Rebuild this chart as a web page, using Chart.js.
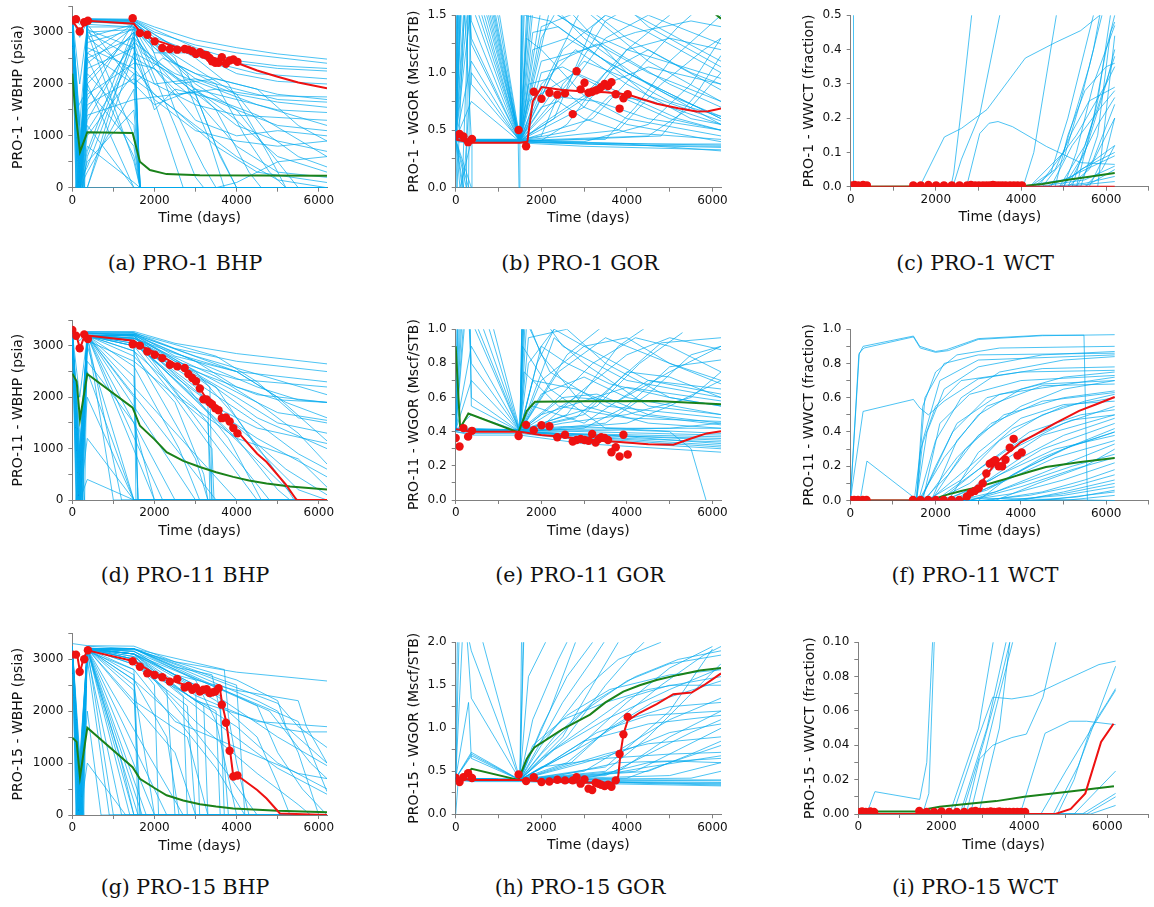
<!DOCTYPE html>
<html>
<head>
<meta charset="utf-8">
<title>PRO wells - ensemble vs history</title>
<script src="https://cdn.jsdelivr.net/npm/chart.js@4.4.1/dist/chart.umd.min.js"></script>
<style>
  html, body { margin: 0; padding: 0; background: #fff; }
  #page { position: relative; width: 1154px; height: 907px; overflow: hidden; }
  canvas { position: absolute; }
  .cap { position: absolute; width: 320px; text-align: center; font-family: 'DejaVu Serif', serif;
         font-size: 20.5px; line-height: 21px; color: #111; white-space: nowrap; }
</style>
</head>
<body>
<div id="page"></div>
<script>
'use strict';

// ---------- data ----------

// observation dates (days), same for every well
let obsDays = [0, 90, 180, 290, 380, 1470, 1645, 1825, 2005, 2190, 2375, 2555, 2735, 2825, 2920, 3010,
  3105, 3190, 3270, 3340, 3400, 3480, 3560, 3640, 3740, 3830, 3920, 4020];

let bhp1Obs = [3223, 3250, 3013, 3191, 3220, 3268, 2981, 2949, 2822, 2694, 2675, 2662, 2675, 2662, 2631, 2580,
  2611, 2567, 2554, 2500, 2439, 2408, 2408, 2516, 2389, 2452, 2471, 2427];
let gor1Obs = [0.453, 0.467, 0.445, 0.396, 0.424, 0.502, 0.361, 0.835, 0.774, 0.826, 0.809, 0.820, 0.640, 1.012,
  0.855, 0.912, 0.826, 0.835, 0.846, 0.855, 0.875, 0.903, 0.883, 0.918, 0.812, 0.688, 0.777, 0.812];
let wct1Obs = [0.004, 0.005, 0.004, 0.005, 0.004, 0.004, 0.004, 0.005, 0.004, 0.004, 0.004, 0.004, 0.004, 0.005,
  0.004, 0.004, 0.004, 0.004, 0.004, 0.005, 0.004, 0.004, 0.004, 0.004, 0.004, 0.004, 0.004, 0.004];
let bhp11Obs = [3308, 3198, 2954, 3224, 3134, 3031, 3006, 2890, 2826, 2762, 2633, 2601, 2569, 2453, 2376, 2312,
  2171, 1959, 1959, 1900, 1863, 1785, 1747, 1593, 1606, 1529, 1400, 1297];
let gor11Obs = [0.363, 0.313, 0.421, 0.371, 0.405, 0.375, 0.440, 0.409, 0.438, 0.432, 0.367, 0.382, 0.342, 0.351,
  0.357, 0.351, 0.347, 0.386, 0.336, 0.357, 0.367, 0.363, 0.351, 0.280, 0.309, 0.255, 0.382, 0.266];
let wct11Obs = [0.003, 0.003, 0.003, 0.003, 0.003, 0.003, 0.003, 0.003, 0.003, 0.003, 0.003, 0.003, 0.023, 0.046,
  0.056, 0.071, 0.100, 0.158, 0.215, 0.225, 0.235, 0.200, 0.200, 0.238, 0.308, 0.360, 0.262, 0.280];
let bhp15Obs = [3088, 3088, 2758, 2999, 3171, 2961, 2853, 2727, 2695, 2651, 2568, 2619, 2454, 2486, 2410, 2454,
  2378, 2410, 2423, 2346, 2360, 2378, 2441, 2124, 1775, 1237, 742, 761];
let gor15Obs = [0.424, 0.375, 0.432, 0.478, 0.421, 0.463, 0.386, 0.432, 0.375, 0.382, 0.402, 0.394, 0.394, 0.432,
  0.356, 0.405, 0.298, 0.283, 0.367, 0.355, 0.344, 0.329, 0.344, 0.321, 0.394, 0.700, 0.929, 1.132];
let wct15Obs = [0.0012, 0.0015, 0.0012, 0.0015, 0.0012, 0.0018, 0.0012, 0.0012, 0.0015, 0.0012, 0.0012, 0.0012,
  0.0015, 0.0018, 0.0012, 0.0012, 0.0012, 0.0015, 0.0012, 0.0012, 0.0015, 0.0012, 0.0012, 0.0012, 0.0012,
  0.0012, 0.0012, 0.0012];

// red = matched run, green = mean run  (flat lists: day, value, day, value ...)
let bhp1Red = [0,3220, 180,3020, 365,3220, 1500,3160, 1650,3000, 2000,2850, 2500,2720, 3000,2610, 3500,2490,
  4000,2410, 4500,2260, 5000,2140, 5500,2030, 6200,1915];
let bhp1Green = [0,2200, 65,1550, 187,690, 365,1070, 1468,1057, 1646,500, 1890,340, 2295,262, 3106,242, 6200,229];
let gor1Red = [0,0.42, 365,0.39, 1500,0.39, 1675,0.40, 1800,0.75, 2010,0.875, 2500,0.85, 2830,0.84, 3500,0.83,
  4020,0.81, 4700,0.73, 5200,0.69, 5630,0.662, 5900,0.665, 6200,0.688];
let gor1Green = [0,3.0, 365,3.0, 1500,3.0, 2000,2.6, 4000,2.0, 5500,1.7, 6100,1.5, 6200,1.47];
let wct1Red = [0,0, 2000,0, 4000,0, 6200,0];
let wct1Green = [0,0, 4000,0.001, 4500,0.008, 5140,0.021, 5600,0.029, 6200,0.040];
let bhp11Red = [0,3300, 100,3200, 187,2950, 300,3200, 365,3200, 1500,3100, 1650,3000, 2000,2880, 2500,2650,
  2800,2500, 3000,2330, 3200,2050, 3500,1780, 4000,1350, 4500,900, 4730,740, 5200,300, 5460,0, 6200,0];
let bhp11Green = [0,2460, 105,2312, 187,1573, 365,2453, 1468,1798, 1646,1445, 2000,1180, 2295,931, 2700,760,
  3106,642, 3500,540, 3917,450, 4300,380, 4728,321, 5300,265, 6200,206];
let gor11Red = [0,0.415, 365,0.40, 1500,0.40, 2000,0.38, 2500,0.37, 3000,0.355, 3500,0.345, 4000,0.336,
  4500,0.327, 5086,0.324, 5500,0.36, 5864,0.39, 6200,0.402];
let gor11Green = [0,0.90, 101,0.434, 150,0.44, 296,0.506, 1464,0.396, 1659,0.521, 1853,0.575, 3000,0.578,
  4696,0.579, 5500,0.57, 6200,0.56];
let wct11Red = [0,0, 1500,0, 2600,0, 2750,0.02, 3000,0.07, 3200,0.15, 3400,0.215, 3600,0.26, 3810,0.30,
  4000,0.34, 4355,0.388, 4800,0.45, 5365,0.523, 5800,0.565, 6200,0.604];
let wct11Green = [0,0, 1500,0, 2000,0.012, 2255,0.033, 2600,0.055, 3033,0.081, 3400,0.108, 3810,0.138,
  4200,0.168, 4588,0.196, 5400,0.225, 6200,0.248];
let bhp15Red = [0,3090, 120,3080, 187,2750, 270,3000, 365,3170, 1500,2960, 2000,2720, 2500,2570, 3000,2430,
  3500,2380, 3600,2400, 3650,2130, 3750,1780, 3840,1240, 3920,740, 4020,760, 4500,480, 4730,317, 5053,30,
  6200,0];
let bhp15Green = [0,1490, 105,1408, 187,729, 365,1680, 1468,919, 1646,698, 2000,520, 2295,380, 2700,280,
  3106,209, 3500,165, 3917,127, 5000,80, 6200,51];
let gor15Red = [0,0.42, 365,0.40, 1500,0.40, 2000,0.385, 3000,0.37, 3500,0.36, 3750,0.37, 3800,0.45, 3850,0.70,
  3920,0.93, 4020,1.09, 4300,1.18, 4696,1.28, 5086,1.396, 5514,1.415, 5800,1.50, 6200,1.637];
let gor15Green = [0,0.40, 100,0.42, 374,0.528, 1464,0.40, 1659,0.642, 1838,0.776, 2500,0.99, 3139,1.159,
  3500,1.30, 3917,1.426, 4300,1.50, 4696,1.56, 5200,1.62, 5700,1.67, 6200,1.70];
let wct15Red = [0,0, 2000,0, 4000,0, 4750,0, 5120,0.003, 5470,0.012, 5850,0.042, 6150,0.0525];
let wct15Green = [0,0.0015, 1480,0.0015, 1700,0.003, 1960,0.0042, 2600,0.0058, 3320,0.0075, 4000,0.010,
  5000,0.0128, 6160,0.0161];

// ensemble runs (blue), each a flat list day, value ...
let bhp1Runs = [
  [0,3300, 180,3200, 365,3260, 1500,3250, 2000,3100, 3000,2850, 4000,2700, 5000,2580, 6200,2480],
  [0,3280, 180,3150, 365,3240, 1500,3230, 2000,3000, 3000,2750, 4000,2600, 6200,2400],
  [0,3250, 180,2900, 365,3200, 1500,3180, 2000,2900, 3000,2600, 4000,2400, 5000,2300, 6200,2250],
  [0,3250, 180,0, 365,3150, 1500,3100, 1700,2600, 2500,2200, 3500,1900, 4500,1780, 6200,1750],
  [0,3200, 180,0, 365,2800, 1500,3050, 1650,0, 6200,0],
  [0,3250, 180,500, 365,2500, 1500,2900, 2000,2000, 3000,1600, 4000,1400, 6200,1300],
  [0,3300, 180,0, 365,2000, 1500,3000, 1650,0, 6200,0],
  [0,3200, 180,0, 365,1500, 1500,2800, 2000,2500, 3000,1800, 3500,800, 4000,0, 6200,0],
  [0,3250, 180,0, 365,3000, 1500,500, 1650,0, 6200,0],
  [0,3250, 180,0, 365,1000, 1500,2200, 2000,2000, 3000,2100, 4000,1900, 5000,1700, 6200,1650],
  [0,3200, 180,0, 365,0, 1500,2600, 2200,2300, 3200,1700, 4000,1200, 5000,900, 6200,700],
  [0,3250, 180,0, 365,500, 1500,1500, 1650,0, 6200,0],
  [0,3300, 180,2000, 365,3100, 1500,1000, 1650,0, 6200,0],
  [0,3250, 180,0, 365,3200, 1500,3200, 2000,2800, 2800,2200, 3600,600, 4000,0, 6200,0],
  [0,3250, 180,0, 365,2600, 1500,2000, 2200,2500, 3000,2200, 4000,2000, 5000,1800, 6200,1700],
  [0,3250, 180,0, 365,0, 1500,3000, 1700,2700, 2500,1200, 3000,200, 3200,0, 6200,0],
  [0,3200, 180,0, 365,3250, 1500,3220, 2000,2950, 3000,2500, 3800,2000, 4800,600, 5200,0, 6200,0],
  [0,3250, 180,0, 365,1800, 1500,2400, 2000,2300, 3000,1300, 4000,1000, 5000,1100, 6200,1000],
  [0,3200, 180,0, 365,800, 1500,100, 1650,0, 6200,0],
  [0,3250, 180,1200, 365,3050, 1500,2700, 2000,1500, 2500,1900, 3500,1700, 4500,1400, 6200,600],
  [0,3250, 180,0, 365,2200, 1500,1200, 1650,0, 6200,0],
  [0,3250, 180,0, 365,3200, 1500,3150, 2200,2700, 3000,2300, 4000,1800, 4800,1000, 5500,600, 6200,400],
  [0,3200, 180,0, 365,300, 1500,1900, 1650,0, 6200,0],
  [0,3250, 180,0, 365,1200, 1500,0, 6200,0],
  [0,3250, 180,0, 365,3100, 1500,3100, 2000,2400, 3000,1900, 4000,1700, 5000,1500, 6200,1450],
  [0,3250, 180,0, 365,2900, 1500,3150, 2500,2400, 3500,2000, 4200,1000, 4800,300, 5200,0, 6200,0],
  [0,3200, 180,0, 365,0, 1500,0, 3500,0, 4000,100, 5000,500, 6200,600],
  [0,3250, 180,0, 365,3000, 1500,2500, 2200,2200, 3000,1700, 4000,800, 5000,300, 6200,200],
  [0,3250, 180,0, 365,2400, 1500,3100, 2000,2600, 3000,2600, 4000,2200, 5000,2050, 6200,2000],
  [0,3250, 180,0, 365,1400, 1500,1700, 2000,1750, 3000,1850, 4000,1500, 5000,500, 5500,0, 6200,0],
  [0,3250, 180,0, 365,3220, 1500,3200, 1800,3000, 2500,1500, 3200,400, 3500,0, 6200,0],
  [0,3250, 180,0, 365,2700, 1500,2300, 2000,1800, 3000,1200, 4000,600, 5000,150, 6200,0],
  [0,3250, 90,0, 365,2300, 1500,2700, 1650,0, 6200,0],
  [0,3300, 130,0, 365,1700, 1500,3200, 1650,0, 6200,0],
  [0,3250, 250,0, 365,600, 1500,2900, 1650,0, 6200,0],
  [0,3250, 120,0, 365,2900, 1500,2200, 1650,0, 6200,0],
  [0,3300, 100,1500, 365,1900, 1500,800, 1650,0, 6200,0],
  [0,3250, 200,0, 365,3250, 1500,3240, 2000,3050, 3000,2700, 4000,2450, 5000,2350, 6200,2300],
  [0,3250, 150,0, 365,3230, 1500,3220, 2500,2700, 3500,2400, 4500,2200, 6200,2100],
  [0,3250, 300,0, 365,2100, 1500,3000, 2000,2300, 2600,1800, 3500,1900, 4500,1600, 6200,1200],
  [0,3200, 90,0, 365,1100, 1500,2500, 2000,1700, 3000,1100, 4000,900, 5000,800, 6200,900],
  [0,3250, 250,0, 365,3150, 1500,2000, 2000,1600, 3000,1900, 4000,1300, 5000,600, 6200,300],
  [0,3250, 180,0, 365,700, 1500,3100, 2500,2300, 3500,1500, 4300,300, 4600,0, 6200,0],
  [0,3250, 130,0, 365,2600, 1500,3150, 2200,2600, 3000,2000, 4000,1500, 5000,1200, 6200,1100],
  [0,3300, 220,0, 365,1600, 1500,2100, 2500,1500, 3500,800, 4500,300, 6200,100],
  [0,3250, 160,0, 365,3200, 1500,3180, 2500,2500, 3300,1000, 3700,0, 6200,0],
  [0,3250, 110,0, 365,400, 1500,2800, 2200,1200, 2700,0, 6200,0],
  [0,3250, 280,0, 365,2500, 1500,600, 1650,0, 6200,0],
  [0,3250, 190,0, 365,3000, 1500,3050, 2000,2700, 3000,2100, 4000,1800, 5000,1650, 6200,1550],
  [0,3250, 140,0, 365,1300, 1500,2900, 2500,2000, 3500,2100, 4500,1900, 5500,1200, 6200,900],
  [0,3250, 200,0, 365,2000, 1500,0, 6200,0]
];

let gor1Runs = [
  [0,0.42, 60,2.5, 365,2.0, 1500,0.42, 1560,2.5, 2500,1.6, 4000,1.0, 6200,0.6],
  [0,0.42, 120,2.5, 365,1.7, 1500,0.41, 1700,1.8, 3000,1.3, 4500,0.9, 6200,0.55],
  [0,0.42, 200,2.5, 365,1.3, 1500,0.40, 1800,1.2, 2600,1.3, 4000,1.0, 6200,0.6],
  [0,0.42, 30,0, 365,3, 1500,0.42, 1600,1.5, 2200,1.45, 3500,1.1, 5000,0.8, 6200,0.62],
  [0,0.41, 365,0.40, 1500,0.40, 2000,0.39, 4000,0.37, 6200,0.36],
  [0,0.42, 365,0.41, 1500,0.41, 2500,0.40, 4500,0.38, 6200,0.38],
  [0,0.40, 365,0.39, 1500,0.39, 3000,0.36, 6200,0.33],
  [0,0.43, 365,0.42, 1500,0.42, 2000,0.45, 2500,0.9, 3000,1.1, 4000,0.95, 5000,0.75, 6200,0.62],
  [0,0.42, 250,2.5, 365,0.9, 1500,0.41, 1700,0.6, 2000,1.0, 2500,1.05, 3500,0.85, 5000,0.6, 6200,0.5],
  [0,0.42, 150,0, 365,2.2, 1500,0.40, 2000,0.55, 3000,0.8, 4000,1.2, 5000,1.5, 5500,1.7],
  [0,0.42, 80,2.5, 365,0.42, 1500,0.42, 2300,0.6, 3200,1.4, 3800,1.6],
  [0,0.42, 365,1.6, 1500,0.40, 1650,1.3, 2000,1.2, 3000,0.8, 4000,0.6, 6200,0.45],
  [0,0.42, 365,0, 380,0.41, 1500,0.41, 2000,0.41, 2600,0.55, 3500,1.0, 4500,1.2, 5500,1.0, 6200,0.9],
  [0,0.42, 365,1.1, 1500,0.40, 1900,0.7, 2500,1.2, 3500,1.5, 4500,1.35, 6200,1.0],
  [0,0.42, 365,2.6, 1500,0.40, 1550,1.7, 2800,1.4, 4000,1.2, 6200,0.95],
  [0,0.42, 365,0.41, 1460,0.41, 1480,0, 1500,0.41, 3000,0.4, 4500,0.55, 5500,0.9, 6200,1.3],
  [0,0.42, 365,0.75, 1500,0.40, 1700,0.9, 2200,0.95, 3000,0.7, 4000,0.55, 6200,0.4],
  [0,0.42, 365,0.41, 1500,0.41, 3500,0.42, 4200,0.7, 5000,1.1, 6200,1.5],
  [0,0.42, 180,2.5, 365,2.8, 1500,0.41, 1600,2.5],
  [0,0.42, 365,0.41, 1500,0.41, 2800,0.5, 3600,0.8, 4600,0.75, 6200,0.55],
  [0,0.42, 365,1.9, 1500,0.40, 1750,1.5, 2300,1.6],
  [0,0.42, 365,0.42, 1500,0.42, 2000,0.7, 2400,0.75, 3000,0.6, 4000,0.48, 6200,0.42],
  [0,0.42, 365,0.41, 1500,0.41, 2200,1.0, 3000,1.6],
  [0,0.42, 365,0.41, 1500,0.41, 3000,0.7, 4000,1.2, 5000,1.3, 6200,1.2],
  [0,0.42, 250,0, 300,2.5, 365,1.45, 1500,0.40, 2200,1.55, 3200,1.3, 5000,0.9, 6200,0.7],
  [0,0.42, 365,0.41, 1500,0.41, 4500,0.45, 5500,0.7, 6200,1.0],
  [0,0.42, 365,2.3, 1500,0.41, 1800,2.0],
  [0,0.42, 365,0.41, 1500,0.41, 2500,0.8, 3500,1.3, 4500,1.5, 6200,1.25],
  [0,0.42, 100,0, 365,0.41, 1500,0.40, 3000,0.38, 6200,0.35],
  [0,0.42, 365,0.41, 1500,0.41, 2000,0.9, 2800,1.2, 4000,0.9, 5500,0.6, 6200,0.55],
  [0,0.42, 40,2.5, 365,2.4, 1500,0.41, 1650,2.5],
  [0,0.42, 90,2.5, 365,1.8, 1500,0.41, 1900,1.9, 2600,1.7, 4000,1.3, 6200,0.85],
  [0,0.42, 140,2.5, 365,1.25, 1500,0.40, 2000,1.4, 3000,1.55, 4500,1.1, 6200,0.75],
  [0,0.42, 220,2.5, 365,2.1, 1500,0.41, 2100,1.8, 3000,1.9, 4500,1.4, 6200,1.05],
  [0,0.42, 180,0, 365,1.0, 1500,0.40, 2400,1.1, 3300,1.25, 4500,1.0, 6200,0.75],
  [0,0.42, 365,0.41, 1500,0.41, 2600,0.9, 3500,1.45, 4200,1.6],
  [0,0.42, 365,0.41, 1500,0.41, 3200,0.6, 4200,1.0, 5200,1.4, 5800,1.6],
  [0,0.42, 365,0.41, 1500,0.41, 1800,1.35, 2400,1.4, 3500,1.1, 4500,0.8, 6200,0.58],
  [0,0.42, 365,0.41, 1500,0.41, 2000,1.3, 2600,1.7],
  [0,0.42, 365,0.41, 1500,0.41, 3800,0.5, 4800,0.9, 5800,1.2, 6200,1.3],
  [0,0.42, 365,0.41, 1500,0.41, 2500,0.65, 3500,0.9, 4500,1.05, 6200,0.9],
  [0,0.42, 365,0.41, 1500,0.41, 2200,0.8, 3300,0.75, 4500,0.6, 6200,0.5],
  [0,0.42, 300,0, 365,2.5, 1500,0.40, 1700,1.6, 2800,1.75, 4200,1.5, 6200,1.1],
  [0,0.42, 365,0.41, 1500,0.41, 1700,0.75, 2800,1.0, 4000,0.8, 5200,0.6, 6200,0.5],
  [0,0.42, 365,0.41, 1500,0.40, 4800,0.45, 5600,0.8, 6200,1.15],
  [0,0.42, 365,0.41, 1500,0.40, 2000,1.1, 3000,1.2, 4200,1.35, 5500,1.45, 6200,1.4],
  [0,0.41, 365,0.40, 1500,0.40, 6200,0.37],
  [0,0.41, 365,0.40, 1500,0.40, 4000,0.38, 6200,0.32]
];

let wct1Runs = [
  [0,0, 60,0, 66,0.8],
  [0,0, 1620,0, 2200,0.145, 2600,0.17, 3200,0.225, 4100,0.375, 4800,0.42, 5400,0.455, 5850,0.5, 6200,0.53],
  [0,0, 2350,0, 2420,0.04, 2620,0.25, 2840,0.5, 2900,0.56],
  [0,0, 2400,0, 2600,0.08, 3030,0.21, 3500,0.5, 3550,0.53],
  [0,0, 2700,0, 2750,0.015, 3030,0.155, 3250,0.185, 3460,0.19, 3800,0.175, 4600,0.117, 5400,0.07, 6200,0.065],
  [0,0, 4050,0, 4300,0.1, 4830,0.5, 4900,0.55],
  [0,0, 4300,0, 4700,0.04, 5100,0.2, 5500,0.4, 5700,0.5],
  [0,0, 4500,0, 5000,0.08, 5400,0.25, 5700,0.4, 5850,0.5],
  [0,0, 4800,0, 5100,0.15, 5500,0.28, 6000,0.35, 6200,0.36],
  [0,0, 5000,0, 5300,0.1, 5700,0.3, 6200,0.47],
  [0,0, 5100,0, 5500,0.1, 6000,0.3, 6200,0.4],
  [0,0, 4700,0, 5200,0.12, 5800,0.22, 6200,0.28],
  [0,0, 5300,0, 5700,0.08, 6200,0.24],
  [0,0, 5500,0, 5900,0.05, 6200,0.12],
  [0,0, 4200,0, 4800,0.05, 5200,0.16, 5600,0.25, 6200,0.29],
  [0,0, 4000,0.001, 5000,0.02, 6200,0.09],
  [0,0, 4500,0.002, 5500,0.02, 6200,0.06],
  [0,0, 5600,0, 6000,0.1, 6200,0.2],
  [0,0, 5200,0, 5700,0.2, 6000,0.4, 6200,0.5],
  [0,0, 4700,0, 5500,0.01, 6200,0.03],
  [0,0, 5000,0, 6200,0.015],
  [0,0, 5400,0, 5800,0.15, 6100,0.45, 6200,0.48],
  [0,0, 4900,0, 5400,0.05, 6200,0.1],
  [0,0, 4200,0, 5000,0.1, 5600,0.35, 5900,0.5],
  [0,0, 4900,0, 5500,0.12, 6200,0.38],
  [0,0, 5100,0, 5600,0.05, 6200,0.2],
  [0,0, 4600,0, 5200,0.03, 6200,0.12],
  [0,0, 5300,0, 5800,0.25, 6100,0.5],
  [0,0, 4400,0, 5300,0.15, 6000,0.3, 6200,0.35],
  [0,0, 5500,0, 6200,0.05],
  [0,0, 5000,0, 5400,0.08, 5800,0.18, 6200,0.26],
  [0,0, 5800,0, 6200,0.44]
];

let bhp11Runs = [
  [0,3300, 180,3200, 365,3280, 1500,3280, 2500,3050, 4000,2850, 6200,2650],
  [0,3300, 180,3100, 365,3270, 1500,3260, 2500,2950, 4000,2700, 6200,2500],
  [0,3280, 180,0, 365,3250, 1500,3250, 2500,2800, 4000,2500, 6200,2300],
  [0,3300, 180,0, 365,3250, 1500,3220, 2500,2700, 4000,2350, 6200,2200],
  [0,3300, 180,0, 365,3200, 1500,3200, 2300,2700, 3000,2500, 4500,2050, 6200,1900],
  [0,3250, 180,0, 365,3150, 1500,3150, 1600,0, 6200,0],
  [0,3250, 180,0, 365,3000, 1500,0, 6200,0],
  [0,3250, 180,0, 365,3200, 2500,0, 6200,0],
  [0,3300, 180,0, 365,3100, 1500,2700, 3300,1500, 3400,0, 6200,0],
  [0,3250, 180,2000, 365,3200, 1500,3050, 2500,2400, 3500,1800, 4500,1400, 6200,1100],
  [0,3250, 180,0, 365,2700, 1500,1500, 2000,0, 6200,0],
  [0,3250, 180,0, 365,3200, 1500,3000, 2500,2000, 3400,1000, 3450,0, 6200,0],
  [0,3300, 180,0, 365,3250, 1500,3180, 2800,2600, 4000,2100, 5000,1700, 6200,1550],
  [0,3250, 180,500, 365,3200, 1000,0, 6200,0],
  [0,3250, 180,0, 365,3250, 1500,3220, 3000,2500, 4000,1600, 5000,500, 5400,0, 6200,0],
  [0,3250, 180,0, 365,2000, 1500,0, 6200,0],
  [0,3250, 180,0, 365,3200, 1500,2800, 2500,1900, 3200,500, 3300,0, 6200,0],
  [0,3250, 180,0, 365,3200, 1500,3100, 3000,2300, 4500,1500, 5500,900, 6200,600],
  [0,3200, 180,0, 365,400, 1500,0, 6200,0],
  [0,3250, 180,0, 365,3200, 1500,2900, 2500,1500, 3000,800, 3300,0, 6200,0],
  [0,3250, 180,0, 365,3230, 1500,3150, 3500,2400, 4500,1900, 5500,1300, 6200,700],
  [0,3250, 180,0, 365,3250, 1500,3250, 3500,2800, 4500,2300, 5500,1600, 6200,1500],
  [0,3250, 180,0, 365,3200, 4000,0, 6200,0],
  [0,3250, 180,0, 365,3200, 1500,3100, 4000,1200, 5000,200, 5300,0, 6200,0],
  [0,3250, 180,0, 365,1200, 1500,0, 6200,0],
  [0,3250, 180,0, 365,3200, 1500,2000, 1600,0, 6200,0],
  [0,3250, 180,0, 365,3200, 1500,3220, 3000,2700, 4000,2200, 5000,1950, 6200,1900],
  [0,3250, 180,0, 365,3200, 3000,0, 6200,0],
  [0,3250, 180,0, 365,3200, 1500,3000, 2500,2600, 3500,2200, 4500,1000, 5500,200, 6200,0],
  [0,3250, 180,0, 365,3200, 1500,3100, 2600,2000, 4000,1200, 5500,800, 6200,250],
  [0,3250, 180,0, 365,3200, 1500,3150, 2500,2850, 4000,2500, 5000,2000, 6200,1150],
  [0,3250, 180,0, 365,3200, 1500,3050, 3000,2000, 4500,1200, 6200,450],
  [0,3250, 100,0, 365,3200, 1500,3150, 3000,2400, 3350,2200, 3400,0, 6200,0],
  [0,3250, 130,0, 365,3200, 1500,3100, 3000,2200, 3300,1900, 3350,0, 6200,0],
  [0,3250, 220,0, 365,3200, 2000,0, 6200,0],
  [0,3250, 160,0, 365,3200, 1200,0, 6200,0],
  [0,3250, 250,0, 365,3200, 3500,0, 6200,0],
  [0,3250, 180,0, 365,3200, 1500,3200, 4500,0, 6200,0],
  [0,3250, 200,0, 365,3200, 1500,3100, 5500,0, 6200,0],
  [0,3250, 150,0, 365,3200, 1500,3150, 2500,2700, 4000,2000, 5000,1500, 6200,1300],
  [0,3250, 110,0, 365,3200, 1500,3230, 3000,2800, 4500,2450, 6200,2050],
  [0,3250, 190,0, 365,3200, 1500,3200, 3000,2700, 4500,2200, 5500,1950, 6200,1900],
  [0,3250, 170,0, 365,3200, 1500,3120, 3200,2000, 4200,1300, 5200,600, 6200,100],
  [0,3250, 240,0, 365,3200, 1500,2600, 2600,1000, 3100,0, 6200,0],
  [0,3250, 140,0, 365,3200, 1500,3200, 2800,2200, 3800,1200, 4600,0, 6200,0],
  [0,3250, 260,0, 365,3200, 1500,3000, 1550,0, 6200,0],
  [0,3250, 90,0, 365,3200, 1500,2400, 1600,0, 6200,0],
  [0,3250, 210,0, 365,3200, 1500,3100, 3300,2300, 4500,1600, 6200,1000],
  [0,3250, 180,0, 365,2500, 1500,0, 6200,0],
  [0,3250, 120,0, 365,3200, 1500,3230, 4000,2500, 5200,1900, 6200,1600],
  [0,3250, 300,0, 365,3200, 2200,0, 6200,0],
  [0,3250, 160,0, 365,3200, 1500,2900, 3000,1800, 4000,800, 4800,0, 6200,0]
];

let gor11Runs = [
  [0,0.41, 365,0.40, 1500,0.40, 3000,0.37, 6200,0.32],
  [0,0.40, 365,0.39, 1500,0.39, 3000,0.35, 6200,0.30],
  [0,0.42, 365,0.41, 1500,0.41, 3000,0.40, 6200,0.38],
  [0,0.40, 365,0.38, 1500,0.38, 3000,0.33, 6200,0.28],
  [0,0.42, 365,0.42, 1500,0.41, 2500,0.43, 4000,0.42, 6200,0.42],
  [0,0.41, 100,1.5, 365,1.2, 1500,0.40, 1580,1.5],
  [0,0.41, 200,1.5, 365,0.8, 1500,0.40, 1650,1.2, 2500,0.9, 4000,0.7, 6200,0.6],
  [0,0.41, 300,1.3, 365,0.6, 1500,0.40, 1700,0.95, 2600,1.0, 3500,0.8, 5000,0.6, 6200,0.55],
  [0,0.41, 250,1.5, 365,1.05, 1500,0.40, 2000,0.7, 3000,0.9, 4000,0.95, 5000,0.8, 6200,0.7],
  [0,0.41, 365,0.5, 1500,0.40, 1600,1.1, 2000,0.85, 3000,0.55, 4500,0.45, 6200,0.42],
  [0,0.41, 365,0.41, 1500,0.41, 2200,0.55, 3200,0.8, 4200,0.95, 5000,0.9, 6200,0.75],
  [0,0.41, 365,0.41, 1500,0.41, 2800,0.48, 3800,0.7, 4800,0.92, 6200,0.95],
  [0,0.41, 365,0.41, 1500,0.41, 1900,0.8, 2400,1.05],
  [0,0.41, 365,0.41, 1500,0.40, 2500,0.6, 3300,0.62, 4500,0.5, 6200,0.45],
  [0,0.41, 150,1.5, 365,1.1, 1500,0.40, 1550,1.1, 2200,0.75, 3500,0.55, 6200,0.48],
  [0,0.41, 365,0.41, 1500,0.40, 3500,0.45, 4500,0.62, 5500,0.85, 6200,0.9],
  [0,0.41, 365,0.41, 1500,0.40, 2000,0.62, 3000,0.72, 4000,0.6, 6200,0.5],
  [0,0.41, 365,0.41, 1500,0.40, 2600,0.85, 3600,1.05],
  [0,0.41, 365,0.41, 1500,0.40, 4000,0.41, 5000,0.40, 5500,0.30, 5850,0],
  [0,0.41, 365,0.41, 1500,0.41, 3000,0.5, 4000,0.75, 5000,0.72, 6200,0.6],
  [0,0.41, 50,1.5, 365,1.5, 1500,0.41, 1600,1.5],
  [0,0.41, 365,0.41, 1500,0.40, 2300,0.95, 3000,0.8, 4500,0.55, 6200,0.5],
  [0,0.41, 365,0.41, 1500,0.41, 3300,0.55, 4300,0.8, 5300,0.98],
  [0,0.41, 365,0.41, 1500,0.40, 1800,0.55, 3000,0.45, 4500,0.7, 6200,0.65],
  [0,0.41, 365,0.41, 1500,0.40, 2500,0.45, 4000,0.5, 5500,0.6, 6200,0.75],
  [0,0.41, 365,0.41, 1500,0.40, 3500,0.38, 6200,0.35],
  [0,0.41, 365,0.41, 1500,0.40, 2000,0.38, 6200,0.31],
  [0,0.41, 365,0.41, 1500,0.40, 2500,0.38, 4000,0.36, 6200,0.34],
  [0,0.41, 365,0.7, 1500,0.40, 1700,1.2],
  [0,0.41, 365,0.41, 1500,0.40, 1560,0.9, 2200,0.65, 3500,0.42, 6200,0.39],
  [0,0.41, 80,1.5, 365,1.35, 1500,0.40, 1620,1.3],
  [0,0.41, 365,0.41, 1500,0.40, 1700,0.8, 2300,1.0, 3000,0.9, 4500,0.7, 6200,0.62],
  [0,0.41, 365,0.41, 1500,0.40, 2100,0.45, 3000,0.65, 4000,0.85, 5000,0.95, 6200,0.88],
  [0,0.41, 365,0.41, 1500,0.40, 2600,0.5, 3800,0.9, 4500,1.02],
  [0,0.41, 365,0.41, 1500,0.40, 1800,0.7, 2800,0.65, 4200,0.5, 6200,0.44],
  [0,0.41, 365,0.41, 1500,0.40, 3000,0.42, 4000,0.55, 5000,0.78, 6200,0.82],
  [0,0.41, 365,0.41, 1500,0.40, 2400,0.75, 3500,0.95, 4500,0.85, 6200,0.68],
  [0,0.41, 365,0.9, 1500,0.40, 1600,0.75, 2400,0.55, 4000,0.48, 6200,0.46],
  [0,0.41, 320,1.5, 365,0.55, 1500,0.40, 2000,0.5, 3000,0.58, 4000,0.66, 6200,0.58],
  [0,0.41, 365,0.41, 1500,0.40, 4000,0.45, 5000,0.55, 6200,0.7],
  [0,0.41, 365,0.41, 1500,0.40, 2000,0.9, 2600,0.8, 3600,0.68, 5000,0.6, 6200,0.55],
  [0,0.41, 365,0.41, 1500,0.40, 3000,0.38, 6200,0.36],
  [0,0.41, 365,0.41, 1500,0.40, 4000,0.37, 6200,0.33],
  [0,0.41, 365,0.41, 1500,0.40, 2500,0.39, 6200,0.37],
  [0,0.41, 365,0.41, 1500,0.41, 5000,0.42, 6200,0.45],
  [0,0.41, 365,0.41, 1500,0.40, 2800,0.6, 3800,0.58, 5000,0.75, 6200,0.9],
  [0,0.41, 365,0.41, 1500,0.40, 1580,1.2]
];

let wct11Runs = [
  [0,0, 200,0.85, 300,0.9, 1480,0.96, 1630,0.9, 2000,0.87, 2250,0.88, 3000,0.945, 4500,0.965, 5480,0.965, 5560,0, 6200,0],
  [0,0, 210,0.86, 320,0.89, 1480,0.955, 1640,0.89, 2000,0.865, 2300,0.875, 3000,0.94, 4500,0.962, 6200,0.968],
  [0,0, 300,0.52, 1480,0.59, 1630,0.54, 1830,0.50, 2200,0.58, 3000,0.71, 4500,0.77, 6200,0.78],
  [0,0, 230,0, 390,0.23, 1480,0.02, 6200,0],
  [0,0, 1550,0, 1700,0.55, 2000,0.75, 2500,0.85, 3500,0.89, 6200,0.9],
  [0,0, 1550,0, 1800,0.4, 2200,0.65, 3000,0.78, 4500,0.85, 6200,0.87],
  [0,0, 1600,0, 2000,0.35, 2600,0.6, 3500,0.75, 5000,0.82, 6200,0.84],
  [0,0, 1600,0, 2200,0.25, 3000,0.5, 4000,0.65, 5000,0.72, 6200,0.75],
  [0,0, 1700,0, 2300,0.15, 3000,0.38, 4000,0.55, 5000,0.65, 6200,0.7],
  [0,0, 1800,0, 2600,0.12, 3500,0.35, 4500,0.5, 5500,0.58, 6200,0.62],
  [0,0, 2000,0, 2800,0.1, 3800,0.3, 5000,0.45, 6200,0.55],
  [0,0, 2200,0, 3000,0.08, 4000,0.25, 5000,0.38, 6200,0.48],
  [0,0, 2300,0, 3200,0.06, 4200,0.2, 5200,0.32, 6200,0.4],
  [0,0, 2500,0, 3400,0.05, 4500,0.16, 5500,0.26, 6200,0.33],
  [0,0, 2700,0, 3800,0.04, 5000,0.12, 6200,0.22],
  [0,0, 3000,0, 4200,0.03, 5200,0.08, 6200,0.15],
  [0,0, 3500,0, 5000,0.03, 6200,0.08],
  [0,0, 1500,0, 1650,0.3, 2000,0.55, 2600,0.7, 4000,0.75, 6200,0.76],
  [0,0, 1650,0, 2400,0.4, 3200,0.6, 4500,0.68, 6200,0.7],
  [0,0, 1900,0, 2700,0.3, 3600,0.5, 5000,0.6, 6200,0.64],
  [0,0, 2100,0, 3100,0.2, 4200,0.4, 5400,0.5, 6200,0.53],
  [0,0, 2400,0, 3500,0.15, 4800,0.3, 6200,0.38],
  [0,0, 4000,0, 5000,0.05, 6200,0.12],
  [0,0, 1550,0, 1750,0.6, 2200,0.8, 3000,0.85, 6200,0.86],
  [0,0, 2600,0, 3600,0.12, 4500,0.25, 5500,0.35, 6200,0.42],
  [0,0, 4500,0, 5500,0.03, 6200,0.05],
  [0,0, 1700,0, 2100,0.45, 2800,0.62, 4000,0.7, 6200,0.73],
  [0,0, 2800,0, 4000,0.1, 5200,0.2, 6200,0.27],
  [0,0, 1550,0, 1700,0.35, 2100,0.7, 3000,0.82, 6200,0.85],
  [0,0, 1650,0, 2000,0.2, 2500,0.45, 3500,0.62, 6200,0.72],
  [0,0, 1750,0, 2500,0.25, 3300,0.45, 4500,0.58, 6200,0.63],
  [0,0, 1850,0, 2800,0.2, 3800,0.42, 5000,0.55, 6200,0.6],
  [0,0, 2000,0, 3000,0.18, 4000,0.35, 5200,0.47, 6200,0.5],
  [0,0, 2200,0, 3300,0.12, 4500,0.3, 6200,0.45],
  [0,0, 2500,0, 3500,0.1, 4800,0.25, 6200,0.35],
  [0,0, 2800,0, 4000,0.08, 5200,0.18, 6200,0.25],
  [0,0, 3200,0, 4500,0.05, 5500,0.12, 6200,0.18],
  [0,0, 3800,0, 5000,0.04, 6200,0.1],
  [0,0, 4200,0, 5300,0.02, 6200,0.06],
  [0,0, 1900,0, 2500,0.35, 3200,0.55, 4500,0.67, 6200,0.68],
  [0,0, 2300,0, 3000,0.28, 4000,0.48, 5000,0.56, 6200,0.58],
  [0,0, 2600,0, 3400,0.2, 4500,0.38, 6200,0.5],
  [0,0, 3000,0, 3800,0.15, 5000,0.3, 6200,0.4],
  [0,0, 3400,0, 4400,0.1, 5500,0.2, 6200,0.3],
  [0,0, 5000,0, 6200,0.03]
];

let bhp15Runs = [
  [0,3300, 365,3260, 1500,3250, 2500,2950, 4000,2750, 6200,2580],
  [0,3250, 180,0, 365,3250, 1500,3200, 2500,2850, 3400,2700, 3600,2000, 3800,0, 6200,0],
  [0,3250, 180,0, 365,3220, 1500,3150, 2500,2700, 4000,2400, 5500,2200, 5700,1700, 6200,1000],
  [0,3250, 180,0, 365,3200, 1500,3100, 3000,2300, 4500,1800, 6200,1700],
  [0,3250, 180,0, 365,3200, 1500,3050, 3000,2200, 5200,1650, 5600,1600, 6200,1600],
  [0,3250, 180,0, 365,3200, 1500,0, 6200,0],
  [0,3250, 180,0, 365,3100, 1200,0, 6200,0],
  [0,3250, 180,0, 365,3000, 900,0, 6200,0],
  [0,3250, 180,0, 365,3150, 1500,2800, 1650,0, 6200,0],
  [0,3250, 180,0, 365,3200, 1500,3000, 2300,2400, 2500,0, 6200,0],
  [0,3250, 180,0, 365,3200, 1500,2900, 2800,2100, 3000,0, 6200,0],
  [0,3250, 180,0, 365,3200, 1500,3100, 3000,2500, 3100,0, 6200,0],
  [0,3250, 180,0, 365,3200, 2000,0, 6200,0],
  [0,3250, 180,0, 365,3200, 1500,2500, 2000,0, 6200,0],
  [0,3250, 180,0, 365,3200, 1500,3100, 3500,2200, 4500,1500, 5000,600, 5300,0, 6200,0],
  [0,3250, 180,0, 365,3200, 1500,2800, 2500,1800, 4000,1300, 5500,800, 6200,700],
  [0,3250, 180,0, 365,3200, 1500,3100, 3000,2200, 4000,1700, 5000,1000, 6200,500],
  [0,3250, 180,0, 365,3200, 1500,3200, 3000,2600, 3500,1800, 4000,0, 6200,0],
  [0,3250, 180,0, 365,3200, 1500,3000, 3000,1800, 4500,800, 5500,200, 5800,0, 6200,0],
  [0,3250, 180,0, 365,3200, 1500,2700, 1600,0, 6200,0],
  [0,3250, 180,0, 365,2000, 700,0, 6200,0],
  [0,3250, 180,0, 365,3200, 1500,3000, 2000,2500, 2100,0, 6200,0],
  [0,3250, 180,0, 365,3200, 1400,0, 6200,0],
  [0,3250, 180,0, 365,3200, 1500,3200, 4500,2200, 5000,2000, 5500,1200, 6000,0, 6200,0],
  [0,3250, 180,0, 365,3200, 1500,3100, 4000,2300, 5500,1800, 6200,450],
  [0,3250, 180,0, 365,3200, 1800,0, 6200,0],
  [0,3250, 180,0, 365,3200, 1500,3200, 3700,2800, 3800,1900, 4000,1000, 4300,0, 6200,0],
  [0,3250, 180,0, 365,3200, 1500,2200, 2800,1500, 3300,0, 6200,0],
  [0,3250, 180,0, 365,3200, 2500,1200, 3000,0, 6200,0],
  [0,3250, 180,0, 365,3200, 1700,0, 6200,0],
  [0,3250, 180,0, 365,3200, 1500,3150, 2800,2700, 4500,2100, 5000,1200, 5600,500, 6200,0],
  [0,3250, 180,0, 365,3200, 1500,2600, 2300,1500, 2600,0, 6200,0],
  [0,3250, 100,0, 365,3200, 1000,0, 6200,0],
  [0,3250, 130,0, 365,3200, 1600,0, 6200,0],
  [0,3250, 220,0, 365,3200, 2300,0, 6200,0],
  [0,3250, 150,0, 365,3200, 1500,3100, 2700,2300, 2800,0, 6200,0],
  [0,3250, 240,0, 365,3200, 1500,3000, 3200,2100, 3300,0, 6200,0],
  [0,3250, 170,0, 365,3200, 1500,3150, 3000,2450, 3600,2300, 3700,0, 6200,0],
  [0,3250, 110,0, 365,3200, 1500,3200, 4000,2500, 4200,0, 6200,0],
  [0,3250, 260,0, 365,3200, 1500,3180, 4000,2600, 5000,2200, 5200,1700, 6200,1000],
  [0,3250, 190,0, 365,3200, 1500,3100, 3500,2300, 5000,1500, 6200,950],
  [0,3250, 120,0, 365,3200, 2700,0, 6200,0],
  [0,3250, 280,0, 365,3200, 1500,2600, 2600,1800, 3500,900, 4200,0, 6200,0],
  [0,3250, 200,0, 365,3200, 1200,1000, 1500,0, 6200,0],
  [0,3250, 160,0, 365,3200, 1500,3050, 2500,2400, 3800,1600, 5000,900, 6200,400],
  [0,3250, 140,0, 365,3200, 1500,3200, 5000,2150, 5500,1700, 6200,1300],
  [0,3250, 210,0, 365,3200, 1500,2900, 3500,2000, 3600,0, 6200,0],
  [0,3250, 180,0, 365,1000, 1300,0, 6200,0],
  [0,3250, 230,0, 365,3200, 1500,2400, 1650,0, 6200,0],
  [0,3250, 90,0, 365,3200, 1500,3200, 4800,2000, 5800,1000, 6200,700],
  [0,3250, 250,0, 365,3200, 1500,3100, 2500,2100, 3500,1100, 4500,0, 6200,0]
];

let gor15Runs = [
  [0,0.42, 365,0.40, 1500,0.40, 3000,0.38, 6200,0.35],
  [0,0.40, 365,0.38, 1500,0.38, 3000,0.36, 6200,0.33],
  [0,0.41, 365,0.41, 1500,0.41, 4000,0.40, 6200,0.40],
  [0,0, 60,0.40, 365,0.39, 1500,0.39, 6200,0.37],
  [0,0.42, 100,2.5, 365,1.9, 1500,0.40, 1600,2.5],
  [0,0.42, 200,2.5, 365,1.35, 1500,0.40, 1700,1.6, 2200,2.1],
  [0,0.42, 365,0.72, 1500,0.40, 1800,0.8, 2500,1.1, 3500,1.3, 4500,1.45, 6200,1.6],
  [0,0.42, 365,0.70, 1500,0.40, 2000,0.7, 3000,1.2, 4000,1.55, 5000,1.75, 6200,1.85],
  [0,0.42, 365,0.68, 1500,0.40, 2500,0.9, 3200,1.5, 3800,2.0],
  [0,0.42, 365,0.41, 1500,0.41, 2200,1.2, 2800,2.0],
  [0,0.42, 365,0.41, 1500,0.41, 2600,0.6, 3600,1.0, 4600,1.3, 6200,1.55],
  [0,0.42, 365,0.41, 1500,0.40, 3000,0.5, 4000,0.8, 5000,1.1, 6200,1.35],
  [0,0.42, 365,0.41, 1500,0.40, 3500,0.45, 4500,0.7, 5500,0.95, 6200,1.1],
  [0,0.42, 365,0.41, 1500,0.40, 4000,0.42, 5000,0.6, 6200,0.8],
  [0,0.42, 365,0.41, 1500,0.40, 2000,1.0, 2600,1.6, 3200,2.0],
  [0,0.42, 365,0.41, 1500,0.40, 2300,0.75, 3500,1.1, 5000,1.45, 6200,1.7],
  [0,0.42, 365,0.41, 1500,0.40, 2800,0.75, 4000,1.3, 5000,1.7, 6000,1.95],
  [0,0.42, 365,0.41, 1500,0.40, 5000,0.45, 6200,0.6],
  [0,0.42, 365,0.41, 1500,0.40, 2500,0.55, 3500,0.7, 4500,0.82, 6200,0.9],
  [0,0.42, 365,0.41, 1500,0.40, 1600,2.2],
  [0,0.42, 365,0.41, 1500,0.40, 3000,0.8, 4000,1.1, 5000,1.25, 6200,1.3],
  [0,0.42, 365,0.41, 1500,0.40, 3800,0.5, 5000,0.9, 6200,1.2],
  [0,0.42, 365,0.41, 1500,0.40, 2000,0.55, 3500,0.65, 5000,0.7, 6200,0.72],
  [0,0.42, 365,0.41, 1500,0.40, 2500,1.3, 3200,1.8, 3600,2.1],
  [0,0.42, 50,2.5, 365,2.5, 1500,0.40, 1550,2.5],
  [0,0.42, 365,0.41, 1500,0.40, 4200,0.5, 5200,0.75, 6200,1.0],
  [0,0.42, 365,0.41, 1500,0.40, 2000,0.8, 3000,1.45, 3800,1.8, 4800,2.0],
  [0,0.42, 365,0.41, 1500,0.40, 3500,0.55, 5000,1.2, 6000,1.92],
  [0,0.42, 365,0.41, 1500,0.40, 2200,0.6, 3300,0.95, 4500,1.15, 6200,1.2],
  [0,0.42, 365,0.41, 1500,0.40, 3000,0.42, 4500,0.55, 6200,0.68],
  [0,0.42, 365,0.41, 1500,0.40, 1800,1.1, 2400,1.8, 2700,2.1],
  [0,0.42, 365,0.41, 1500,0.40, 2300,0.9, 3200,1.3, 4200,1.6, 5200,1.8, 6200,1.9],
  [0,0.42, 365,0.41, 1500,0.40, 2700,0.6, 3800,1.1, 4800,1.5, 5800,1.85, 6200,1.95],
  [0,0.42, 365,0.41, 1500,0.40, 3000,0.6, 4000,0.75, 5000,0.95, 6200,1.05],
  [0,0.42, 365,0.41, 1500,0.40, 2200,0.6, 3000,0.85, 4500,1.05, 6200,1.15],
  [0,0.42, 365,0.41, 1500,0.40, 4500,0.5, 5500,0.7, 6200,0.85],
  [0,0.42, 365,0.41, 1500,0.40, 3300,0.45, 4500,0.6, 6200,0.65],
  [0,0.42, 365,0.41, 1500,0.40, 2000,0.65, 3000,1.0, 4000,1.35, 5000,1.5, 6200,1.5],
  [0,0.42, 365,0.41, 1500,0.40, 2600,0.9, 3500,1.5, 4200,1.9, 4500,2.05],
  [0,0.42, 365,0.41, 1500,0.40, 3500,0.5, 4500,0.9, 5500,1.4, 6200,1.75],
  [0,0.42, 365,0.41, 1500,0.40, 5500,0.42, 6200,0.5],
  [0,0.42, 365,0.41, 1500,0.40, 6200,0.39],
  [0,0.40, 365,0.40, 1500,0.39, 6200,0.34],
  [0,0.41, 365,0.40, 1500,0.40, 4000,0.37, 6200,0.36],
  [0,0.42, 365,0.41, 1500,0.40, 2400,0.45, 3800,0.6, 5000,0.62, 6200,0.6],
  [0,0.42, 365,0.41, 1500,0.40, 1700,0.7, 2600,1.15, 3600,1.45, 5000,1.62, 6200,1.68],
  [0,0.42, 300,1.3, 365,0.65, 1500,0.40]
];

let wct15Runs = [
  [0,0, 200,0, 400,0.013, 1480,0.0085, 1650,0.03, 1790,0.1, 1800,0.12],
  [0,0, 1550,0, 1700,0.012, 1830,0.1, 1840,0.12],
  [0,0, 2280,0, 2900,0.045, 3240,0.068, 3700,0.067, 4200,0.069, 4900,0.077, 5800,0.087, 6200,0.089],
  [0,0, 2600,0, 2920,0.032, 3240,0.04, 3700,0.0445, 4050,0.0465, 4450,0.068, 4760,0.1, 4800,0.11],
  [0,0, 2200,0, 2900,0.05, 3250,0.1, 3300,0.11],
  [0,0, 2450,0, 3100,0.05, 3560,0.1, 3600,0.11],
  [0,0, 2700,0, 3300,0.06, 3720,0.1, 3750,0.11],
  [0,0, 2500,0, 3000,0.04, 3400,0.075, 3650,0.1, 3700,0.11],
  [0,0, 3900,0, 4500,0.047, 5100,0.054, 5500,0.054, 6200,0.052],
  [0,0, 4700,0, 5300,0.028, 6200,0.086],
  [0,0, 4800,0, 5200,0.02, 5600,0.05, 6000,0.065, 6200,0.073],
  [0,0, 4400,0, 5000,0.025, 5500,0.045, 6200,0.072],
  [0,0, 5200,0, 6200,0.025],
  [0,0, 5400,0, 6200,0.012],
  [0,0, 5600,0, 6200,0.005],
  [0,0, 5500,0, 6200,0.01],
  [0,0, 2900,0, 3400,0.05, 3650,0.1, 3660,0.11]
];

// axis ticks and their labels
let xTicks62 = [0, 1000, 2000, 3000, 4000, 5000, 6000];
let xLabels62 = ['0', '', '2000', '', '4000', '', '6000'];
let xTicks70 = [0, 1000, 2000, 3000, 4000, 5000, 6000, 7000];
let xLabels70 = ['0', '', '2000', '', '4000', '', '6000', ''];
let bhpTicks = [0, 500, 1000, 1500, 2000, 2500, 3000, 3500];
let bhpLabels = ['0', '', '1000', '', '2000', '', '3000', ''];
let gor1Ticks = [0, 0.25, 0.5, 0.75, 1, 1.25, 1.5];
let gor1Labels = ['0.0', '', '0.5', '', '1.0', '', '1.5'];
let wct1Ticks = [0, 0.1, 0.2, 0.3, 0.4, 0.5];
let wct1Labels = ['0.0', '0.1', '0.2', '0.3', '0.4', '0.5'];
let unitTicks = [0, 0.1, 0.2, 0.3, 0.4, 0.5, 0.6, 0.7, 0.8, 0.9, 1.0];
let unitLabels = ['0.0', '', '0.2', '', '0.4', '', '0.6', '', '0.8', '', '1.0'];
let gor15Ticks = [0, 0.25, 0.5, 0.75, 1, 1.25, 1.5, 1.75, 2];
let gor15Labels = ['0.0', '', '0.5', '', '1.0', '', '1.5', '', '2.0'];
let wct15Ticks = [0, 0.01, 0.02, 0.03, 0.04, 0.05, 0.06, 0.07, 0.08, 0.09, 0.1];
let wct15Labels = ['0.00', '', '0.02', '', '0.04', '', '0.06', '', '0.08', '', '0.10'];

let captions = ['(a) PRO-1 BHP', '(b) PRO-1 GOR', '(c) PRO-1 WCT', '(d) PRO-11 BHP', '(e) PRO-11 GOR',
  '(f) PRO-11 WCT', '(g) PRO-15 BHP', '(h) PRO-15 GOR', '(i) PRO-15 WCT'];

// ---------- layout ----------

const BLUE = 'rgba(0,170,238,0.7)';
const RED = '#ee1111';
const GREEN = '#1a821a';
const AXIS = '#808080';
const SANS = "'DejaVu Sans', sans-serif";

// canvas left, plot box [left, top, right, bottom] in page pixels
let panels = [
  {cl: 0,   box: [72.3, 4.5, 327, 187.7],    title: 'PRO-1 - WBHP (psia)',       obs: bhp1Obs,  red: bhp1Red,  green: bhp1Green,  runs: bhp1Runs,  xt: xTicks62, xl: xLabels62, xmax: 6200, yt: bhpTicks,  yl: bhpLabels},
  {cl: 396, box: [455.7, 13.3, 721, 187.7],  title: 'PRO-1 - WGOR (Mscf/STB)',   obs: gor1Obs,  red: gor1Red,  green: gor1Green,  runs: gor1Runs,  xt: xTicks62, xl: xLabels62, xmax: 6200, yt: gor1Ticks, yl: gor1Labels},
  {cl: 791, box: [850.7, 13.3, 1149.5, 186.7], title: 'PRO-1 - WWCT (fraction)', obs: wct1Obs,  red: wct1Red,  green: wct1Green,  runs: wct1Runs,  xt: xTicks70, xl: xLabels70, xmax: 7000, yt: wct1Ticks, yl: wct1Labels},
  {cl: 0,   box: [72.3, 318.4, 327, 500],    title: 'PRO-11 - WBHP (psia)',      obs: bhp11Obs, red: bhp11Red, green: bhp11Green, runs: bhp11Runs, xt: xTicks62, xl: xLabels62, xmax: 6200, yt: bhpTicks,  yl: bhpLabels},
  {cl: 396, box: [455.7, 327.3, 721, 500],   title: 'PRO-11 - WGOR (Mscf/STB)',  obs: gor11Obs, red: gor11Red, green: gor11Green, runs: gor11Runs, xt: xTicks62, xl: xLabels62, xmax: 6200, yt: unitTicks, yl: unitLabels},
  {cl: 791, box: [850.3, 327.3, 1149.5, 500.5], title: 'PRO-11 - WWCT (fraction)', obs: wct11Obs, red: wct11Red, green: wct11Green, runs: wct11Runs, xt: xTicks70, xl: xLabels70, xmax: 7000, yt: unitTicks, yl: unitLabels},
  {cl: 0,   box: [72.3, 631, 327, 815],      title: 'PRO-15 - WBHP (psia)',      obs: bhp15Obs, red: bhp15Red, green: bhp15Green, runs: bhp15Runs, xt: xTicks62, xl: xLabels62, xmax: 6200, yt: bhpTicks,  yl: bhpLabels},
  {cl: 396, box: [455.7, 640, 721, 814.3],   title: 'PRO-15 - WGOR (Mscf/STB)',  obs: gor15Obs, red: gor15Red, green: gor15Green, runs: gor15Runs, xt: xTicks62, xl: xLabels62, xmax: 6200, yt: gor15Ticks, yl: gor15Labels},
  {cl: 792, box: [858.3, 640, 1149.5, 814],  title: 'PRO-15 - WWCT (fraction)',  obs: wct15Obs, red: wct15Red, green: wct15Green, runs: wct15Runs, xt: xTicks70, xl: xLabels70, xmax: 7000, yt: wct15Ticks, yl: wct15Labels}
];
let capX = [185, 580, 975];
let capTop = [253, 565, 877];

function pairs(flat) {
  let pts = [];
  for (let i = 0; i < flat.length; i += 2) pts.push({x: flat[i], y: flat[i + 1]});
  return pts;
}

let page = document.getElementById('page');

function drawPanel(p) {
  let [L, T, R, B] = p.box;
  let top = Math.floor(T - 10);
  let padTop = T - top;
  let width = Math.ceil(R + (p.xmax === 7000 ? 3 : 14)) - p.cl;
  let padRight = width - (R - p.cl);
  let height = Math.ceil(B - top + 45);
  let xH = height - (B - top);
  let yW = L - p.cl;

  let cv = document.createElement('canvas');
  cv.width = width;
  cv.height = height;
  cv.style.left = p.cl + 'px';
  cv.style.top = top + 'px';
  page.appendChild(cv);

  let datasets = [];
  // dots on top, then red, green, and the ensemble underneath
  datasets.push({data: obsDays.map((d, i) => ({x: d, y: p.obs[i]})), showLine: false,
    pointRadius: 4.2, pointBackgroundColor: RED, pointBorderWidth: 0});
  datasets.push({data: pairs(p.red), borderColor: RED, borderWidth: 2, pointRadius: 0});
  datasets.push({data: pairs(p.green), borderColor: GREEN, borderWidth: 2, pointRadius: 0});
  p.runs.forEach(r => datasets.push({data: pairs(r), borderColor: BLUE, borderWidth: 1, pointRadius: 0}));

  let tickFont = {family: SANS, size: 12};
  let titleFont = {family: SANS, size: 14};

  new Chart(cv, {
    type: 'line',
    data: {datasets: datasets},
    options: {
      responsive: false,
      animation: false,
      events: [],
      layout: {padding: {top: padTop, right: padRight, left: 0, bottom: 0}},
      plugins: {legend: {display: false}, tooltip: {enabled: false}},
      elements: {line: {tension: 0}},
      scales: {
        x: {
          type: 'linear', min: 0, max: p.xmax,
          afterBuildTicks: s => { s.ticks = p.xt.map(v => ({value: v})); },
          afterFit: s => { s.height = xH; },
          ticks: {autoSkip: false, maxRotation: 0, padding: 2, color: '#111', font: tickFont,
            callback: (v, i) => p.xl[i]},
          grid: {drawOnChartArea: false, drawTicks: true, tickLength: 4, color: AXIS},
          border: {display: true, color: AXIS, width: 1},
          title: {display: true, text: 'Time (days)', color: '#111', font: titleFont,
            padding: {top: 0, bottom: xH - 31 - 8.4}}
        },
        y: {
          type: 'linear', min: p.yt[0], max: p.yt[p.yt.length - 1],
          afterBuildTicks: s => { s.ticks = p.yt.map(v => ({value: v})); },
          afterFit: s => { s.width = yW; },
          ticks: {autoSkip: false, padding: 5, color: '#111', font: tickFont,
            callback: (v, i) => p.yl[i]},
          grid: {drawOnChartArea: false, drawTicks: true, tickLength: 4, color: AXIS},
          border: {display: true, color: AXIS, width: 1},
          title: {display: true, text: p.title, color: '#111', font: titleFont,
            padding: {top: 10, bottom: 0}}
        }
      }
    }
  });
}

panels.forEach(drawPanel);

captions.forEach((c, i) => {
  let d = document.createElement('div');
  d.className = 'cap';
  d.textContent = c;
  d.style.left = (capX[i % 3] - 160) + 'px';
  d.style.top = capTop[Math.floor(i / 3)] + 'px';
  page.appendChild(d);
});
</script>
</body>
</html>
